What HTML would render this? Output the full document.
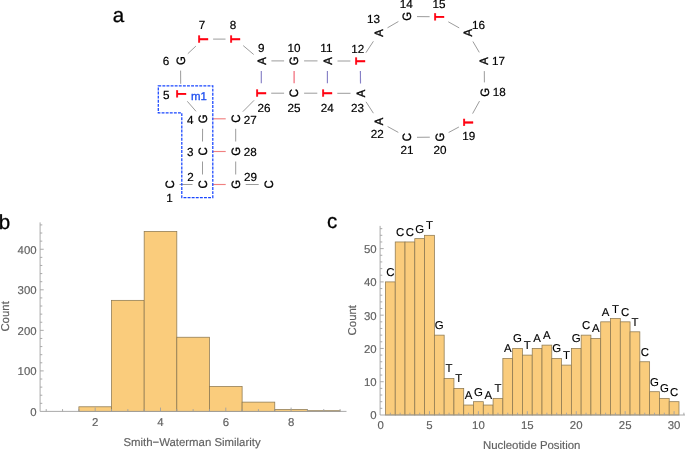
<!DOCTYPE html><html><head><meta charset="utf-8"><style>
html,body{margin:0;padding:0;background:#fff;}
svg{display:block;will-change:transform;text-rendering:geometricPrecision;font-family:"Liberation Sans",sans-serif;}
.n{font-size:11.7px;fill:#000;stroke:#000;stroke-width:0.2;}
.l{font-size:400px;fill:#000;text-anchor:middle;stroke:#000;stroke-width:11;}
.t{font-size:11.4px;fill:#606060;stroke:#606060;stroke-width:0.15;}
.b{fill:#facc7c;stroke:#8c7850;stroke-width:0.75;}
.ax{stroke:#a0a0a0;stroke-width:0.9;fill:none;}
.g{stroke:#b0b0b0;stroke-width:1;}
</style></head><body>
<svg width="685" height="449" viewBox="0 0 685 449">
<rect width="685" height="449" fill="#fff"/>
<g font-size="20.5" stroke="#000" stroke-width="0.3"><text x="112.8" y="21.8">a</text><text x="-1.3" y="228.9">b</text><text x="326.9" y="228.1">c</text></g>
<line x1="179.5" y1="184.5" x2="192.5" y2="184.5" stroke="#9c9c9c" stroke-width="1"/>
<line x1="202.5" y1="174.5" x2="202.5" y2="161.5" stroke="#9c9c9c" stroke-width="1"/>
<line x1="202.5" y1="141.5" x2="202.6" y2="128.8" stroke="#9c9c9c" stroke-width="1"/>
<line x1="196.0" y1="111.3" x2="187.3" y2="101.3" stroke="#9c9c9c" stroke-width="1"/>
<line x1="180.7" y1="83.8" x2="180.6" y2="70.6" stroke="#9c9c9c" stroke-width="1"/>
<line x1="187.8" y1="53.7" x2="195.9" y2="46.1" stroke="#9c9c9c" stroke-width="1"/>
<line x1="213.1" y1="39.1" x2="225.5" y2="39.1" stroke="#9c9c9c" stroke-width="1"/>
<line x1="243.2" y1="45.6" x2="253.7" y2="54.5" stroke="#9c9c9c" stroke-width="1"/>
<line x1="271.4" y1="60.9" x2="284.1" y2="60.9" stroke="#9c9c9c" stroke-width="1"/>
<line x1="304.1" y1="60.9" x2="317.5" y2="60.9" stroke="#9c9c9c" stroke-width="1"/>
<line x1="337.5" y1="61.0" x2="350.4" y2="61.0" stroke="#9c9c9c" stroke-width="1"/>
<line x1="365.9" y1="52.7" x2="373.4" y2="41.3" stroke="#9c9c9c" stroke-width="1"/>
<line x1="387.5" y1="27.8" x2="398.4" y2="21.5" stroke="#9c9c9c" stroke-width="1"/>
<line x1="417.0" y1="16.6" x2="429.6" y2="16.7" stroke="#9c9c9c" stroke-width="1"/>
<line x1="448.3" y1="21.8" x2="459.2" y2="27.9" stroke="#9c9c9c" stroke-width="1"/>
<line x1="472.9" y1="41.5" x2="479.3" y2="52.4" stroke="#9c9c9c" stroke-width="1"/>
<line x1="484.3" y1="71.1" x2="484.4" y2="82.4" stroke="#9c9c9c" stroke-width="1"/>
<line x1="479.5" y1="101.1" x2="472.6" y2="113.6" stroke="#9c9c9c" stroke-width="1"/>
<line x1="458.9" y1="127.0" x2="448.6" y2="132.5" stroke="#9c9c9c" stroke-width="1"/>
<line x1="429.8" y1="137.2" x2="417.0" y2="137.3" stroke="#9c9c9c" stroke-width="1"/>
<line x1="398.3" y1="132.4" x2="387.6" y2="126.5" stroke="#9c9c9c" stroke-width="1"/>
<line x1="373.4" y1="113.2" x2="366.0" y2="101.8" stroke="#9c9c9c" stroke-width="1"/>
<line x1="350.5" y1="93.3" x2="337.3" y2="93.3" stroke="#9c9c9c" stroke-width="1"/>
<line x1="317.3" y1="93.2" x2="304.1" y2="93.2" stroke="#9c9c9c" stroke-width="1"/>
<line x1="284.1" y1="93.2" x2="271.2" y2="93.2" stroke="#9c9c9c" stroke-width="1"/>
<line x1="254.1" y1="100.3" x2="242.8" y2="111.7" stroke="#9c9c9c" stroke-width="1"/>
<line x1="235.7" y1="128.8" x2="235.7" y2="141.5" stroke="#9c9c9c" stroke-width="1"/>
<line x1="235.7" y1="161.5" x2="235.7" y2="174.5" stroke="#9c9c9c" stroke-width="1"/>
<line x1="245.7" y1="184.5" x2="258.7" y2="184.5" stroke="#9c9c9c" stroke-width="1"/>
<line x1="212.5" y1="184.5" x2="225.7" y2="184.5" stroke="#f08080" stroke-width="1.15"/>
<line x1="212.5" y1="151.5" x2="225.7" y2="151.5" stroke="#f08080" stroke-width="1.15"/>
<line x1="212.6" y1="118.8" x2="225.7" y2="118.8" stroke="#f08080" stroke-width="1.15"/>
<line x1="294.1" y1="70.9" x2="294.1" y2="83.2" stroke="#f06070" stroke-width="1.15"/>
<line x1="261.3" y1="70.9" x2="261.3" y2="83.2" stroke="#8680c6" stroke-width="1.15"/>
<line x1="327.4" y1="70.9" x2="327.4" y2="83.2" stroke="#8680c6" stroke-width="1.15"/>
<line x1="360.4" y1="71.1" x2="360.5" y2="83.4" stroke="#8680c6" stroke-width="1.15"/>
<text class="l" transform="translate(169.50 184.50) rotate(-90) scale(0.02800 0.03025)" x="0" y="137.6">C</text>
<text class="l" transform="translate(202.50 184.50) rotate(-90) scale(0.02800 0.03025)" x="0" y="137.6">C</text>
<text class="l" transform="translate(202.50 151.50) rotate(-90) scale(0.02800 0.03025)" x="0" y="137.6">C</text>
<text class="l" transform="translate(202.60 118.80) rotate(-90) scale(0.02800 0.03025)" x="0" y="137.6">G</text>
<text class="l" style="font-weight:bold;fill:#ff0010;stroke:#ff0010" transform="translate(180.70 93.80) rotate(-90) scale(0.02950 0.03500)" x="0" y="137.6">T</text>
<text class="l" transform="translate(180.60 60.60) rotate(-90) scale(0.02800 0.03025)" x="0" y="137.6">G</text>
<text class="l" style="font-weight:bold;fill:#ff0010;stroke:#ff0010" transform="translate(203.10 39.15) rotate(-90) scale(0.02950 0.03500)" x="0" y="137.6">T</text>
<text class="l" style="font-weight:bold;fill:#ff0010;stroke:#ff0010" transform="translate(235.50 39.15) rotate(-90) scale(0.02950 0.03500)" x="0" y="137.6">T</text>
<text class="l" transform="translate(261.40 60.90) rotate(-90) scale(0.02800 0.03025)" x="0" y="137.6">A</text>
<text class="l" transform="translate(294.10 60.90) rotate(-90) scale(0.02800 0.03025)" x="0" y="137.6">G</text>
<text class="l" transform="translate(327.50 60.90) rotate(-90) scale(0.02800 0.03025)" x="0" y="137.6">A</text>
<text class="l" style="font-weight:bold;fill:#ff0010;stroke:#ff0010" transform="translate(360.40 61.10) rotate(-90) scale(0.02950 0.03500)" x="0" y="137.6">T</text>
<text class="l" transform="translate(378.90 32.90) rotate(-90) scale(0.02800 0.03025)" x="0" y="137.6">A</text>
<text class="l" transform="translate(407.00 16.40) rotate(-90) scale(0.02800 0.03025)" x="0" y="137.6">G</text>
<text class="l" style="font-weight:bold;fill:#ff0010;stroke:#ff0010" transform="translate(439.60 16.90) rotate(-90) scale(0.02950 0.03500)" x="0" y="137.6">T</text>
<text class="l" transform="translate(467.90 32.80) rotate(-90) scale(0.02800 0.03025)" x="0" y="137.6">A</text>
<text class="l" transform="translate(484.30 61.10) rotate(-90) scale(0.02800 0.03025)" x="0" y="137.6">A</text>
<text class="l" transform="translate(484.40 92.40) rotate(-90) scale(0.02800 0.03025)" x="0" y="137.6">G</text>
<text class="l" style="font-weight:bold;fill:#ff0010;stroke:#ff0010" transform="translate(467.70 122.30) rotate(-90) scale(0.02950 0.03500)" x="0" y="137.6">T</text>
<text class="l" transform="translate(439.80 137.20) rotate(-90) scale(0.02800 0.03025)" x="0" y="137.6">G</text>
<text class="l" transform="translate(407.00 137.30) rotate(-90) scale(0.02800 0.03025)" x="0" y="137.6">C</text>
<text class="l" transform="translate(378.90 121.60) rotate(-90) scale(0.02800 0.03025)" x="0" y="137.6">A</text>
<text class="l" transform="translate(360.50 93.40) rotate(-90) scale(0.02800 0.03025)" x="0" y="137.6">A</text>
<text class="l" style="font-weight:bold;fill:#ff0010;stroke:#ff0010" transform="translate(327.30 93.20) rotate(-90) scale(0.02950 0.03500)" x="0" y="137.6">T</text>
<text class="l" transform="translate(294.10 93.20) rotate(-90) scale(0.02800 0.03025)" x="0" y="137.6">C</text>
<text class="l" style="font-weight:bold;fill:#ff0010;stroke:#ff0010" transform="translate(261.20 93.20) rotate(-90) scale(0.02950 0.03500)" x="0" y="137.6">T</text>
<text class="l" transform="translate(235.70 118.80) rotate(-90) scale(0.02800 0.03025)" x="0" y="137.6">C</text>
<text class="l" transform="translate(235.70 151.50) rotate(-90) scale(0.02800 0.03025)" x="0" y="137.6">G</text>
<text class="l" transform="translate(235.70 184.50) rotate(-90) scale(0.02800 0.03025)" x="0" y="137.6">G</text>
<text class="l" transform="translate(268.70 184.50) rotate(-90) scale(0.02800 0.03025)" x="0" y="137.6">C</text>
<text class="n" text-anchor="middle" x="169.6" y="201.8">1</text>
<text class="n" text-anchor="middle" x="190.5" y="181.1">2</text>
<text class="n" text-anchor="middle" x="190.3" y="155.6">3</text>
<text class="n" text-anchor="middle" x="190.3" y="123.5">4</text>
<text class="n" text-anchor="middle" x="166.2" y="98.8">5</text>
<text class="n" text-anchor="middle" x="166.1" y="65.1">6</text>
<text class="n" text-anchor="middle" x="202.0" y="28.9">7</text>
<text class="n" text-anchor="middle" x="232.9" y="28.9">8</text>
<text class="n" text-anchor="middle" x="261.2" y="52.4">9</text>
<text class="n" text-anchor="middle" x="293.9" y="52.4">10</text>
<text class="n" text-anchor="middle" x="326.4" y="52.4">11</text>
<text class="n" text-anchor="middle" x="357.7" y="52.5">12</text>
<text class="n" text-anchor="middle" x="373.4" y="23.4">13</text>
<text class="n" text-anchor="middle" x="406.3" y="8.2">14</text>
<text class="n" text-anchor="middle" x="439.0" y="8.2">15</text>
<text class="n" text-anchor="middle" x="478.5" y="29.2">16</text>
<text class="n" text-anchor="middle" x="498.5" y="65.1">17</text>
<text class="n" text-anchor="middle" x="499.2" y="96.4">18</text>
<text class="n" text-anchor="middle" x="468.7" y="140.4">19</text>
<text class="n" text-anchor="middle" x="440.0" y="154.2">20</text>
<text class="n" text-anchor="middle" x="407.0" y="154.2">21</text>
<text class="n" text-anchor="middle" x="377.2" y="138.3">22</text>
<text class="n" text-anchor="middle" x="357.4" y="111.8">23</text>
<text class="n" text-anchor="middle" x="327.3" y="112.1">24</text>
<text class="n" text-anchor="middle" x="294.1" y="112.1">25</text>
<text class="n" text-anchor="middle" x="263.9" y="112.1">26</text>
<text class="n" text-anchor="middle" x="250.2" y="123.5">27</text>
<text class="n" text-anchor="middle" x="250.2" y="155.6">28</text>
<text class="n" text-anchor="middle" x="250.4" y="181.1">29</text>
<text x="199" y="99.7" font-size="11.4" fill="#1a4cf0" stroke="#1a4cf0" stroke-width="0.3" text-anchor="middle">m1</text>
<path d="M158.3 85.8H212.8V197.6H181.8V112.9H158.3Z" fill="none" stroke="#1846ff" stroke-width="1.25" stroke-dasharray="2.9 1.2"/>
<rect class="b" x="78.88" y="406.79" width="32.65" height="4.66"/>
<rect class="b" x="111.53" y="300.34" width="32.65" height="111.11"/>
<rect class="b" x="144.17" y="231.41" width="32.65" height="180.04"/>
<rect class="b" x="176.82" y="337.24" width="32.65" height="74.21"/>
<rect class="b" x="209.47" y="386.51" width="32.65" height="24.94"/>
<rect class="b" x="242.12" y="402.12" width="32.65" height="9.33"/>
<rect class="b" x="274.77" y="409.58" width="32.65" height="1.87"/>
<rect class="b" x="307.42" y="410.72" width="32.65" height="0.73"/>
<path class="ax" d="M40.1 222.4V411.4H346.5"/>
<path class="ax" d="M40.1 403.34h2.2M40.1 395.23h2.2M40.1 387.12h2.2M40.1 379.01h2.2M40.1 370.90h3.6M40.1 362.79h2.2M40.1 354.68h2.2M40.1 346.57h2.2M40.1 338.46h2.2M40.1 330.35h3.6M40.1 322.24h2.2M40.1 314.13h2.2M40.1 306.02h2.2M40.1 297.91h2.2M40.1 289.80h3.6M40.1 281.69h2.2M40.1 273.58h2.2M40.1 265.47h2.2M40.1 257.36h2.2M40.1 249.25h3.6M40.1 241.14h2.2M40.1 233.03h2.2M40.1 224.92h2.2M46.22 411.4v-2.3M62.55 411.4v-2.3M78.88 411.4v-2.3M95.20 411.4v-3.8M111.53 411.4v-2.3M127.85 411.4v-2.3M144.17 411.4v-2.3M160.50 411.4v-3.8M176.82 411.4v-2.3M193.15 411.4v-2.3M209.47 411.4v-2.3M225.80 411.4v-3.8M242.12 411.4v-2.3M258.45 411.4v-2.3M274.77 411.4v-2.3M291.10 411.4v-3.8M307.42 411.4v-2.3M323.75 411.4v-2.3M340.07 411.4v-2.3"/>
<text class="t" text-anchor="end" x="36.6" y="415.8">0</text>
<text class="t" text-anchor="end" x="36.6" y="375.3">100</text>
<text class="t" text-anchor="end" x="36.6" y="334.7">200</text>
<text class="t" text-anchor="end" x="36.6" y="294.2">300</text>
<text class="t" text-anchor="end" x="36.6" y="253.6">400</text>
<text class="t" text-anchor="middle" x="95.2" y="426.1">2</text>
<text class="t" text-anchor="middle" x="160.5" y="426.1">4</text>
<text class="t" text-anchor="middle" x="225.8" y="426.1">6</text>
<text class="t" text-anchor="middle" x="291.1" y="426.1">8</text>
<text class="t" text-anchor="middle" x="192" y="446.3">Smith−Waterman Similarity</text>
<text class="t" text-anchor="middle" transform="translate(8.9 316.4) rotate(-90)">Count</text>
<rect class="b" x="385.44" y="281.90" width="9.79" height="133.10"/>
<rect class="b" x="395.23" y="241.96" width="9.78" height="173.04"/>
<rect class="b" x="405.01" y="241.96" width="9.79" height="173.04"/>
<rect class="b" x="414.80" y="238.64" width="9.78" height="176.36"/>
<rect class="b" x="424.58" y="235.31" width="9.79" height="179.69"/>
<rect class="b" x="434.37" y="335.14" width="9.79" height="79.86"/>
<rect class="b" x="444.15" y="378.40" width="9.78" height="36.60"/>
<rect class="b" x="453.94" y="388.38" width="9.79" height="26.62"/>
<rect class="b" x="463.72" y="405.02" width="9.78" height="9.98"/>
<rect class="b" x="473.51" y="401.69" width="9.79" height="13.31"/>
<rect class="b" x="483.29" y="405.02" width="9.78" height="9.98"/>
<rect class="b" x="493.08" y="398.36" width="9.79" height="16.64"/>
<rect class="b" x="502.86" y="358.43" width="9.79" height="56.57"/>
<rect class="b" x="512.65" y="348.45" width="9.78" height="66.55"/>
<rect class="b" x="522.43" y="355.10" width="9.78" height="59.90"/>
<rect class="b" x="532.22" y="348.45" width="9.79" height="66.55"/>
<rect class="b" x="542.00" y="345.12" width="9.78" height="69.88"/>
<rect class="b" x="551.79" y="358.43" width="9.78" height="56.57"/>
<rect class="b" x="561.57" y="365.09" width="9.79" height="49.91"/>
<rect class="b" x="571.36" y="348.45" width="9.78" height="66.55"/>
<rect class="b" x="581.14" y="335.14" width="9.78" height="79.86"/>
<rect class="b" x="590.93" y="338.47" width="9.78" height="76.53"/>
<rect class="b" x="600.71" y="321.83" width="9.78" height="93.17"/>
<rect class="b" x="610.50" y="318.50" width="9.79" height="96.50"/>
<rect class="b" x="620.28" y="321.83" width="9.78" height="93.17"/>
<rect class="b" x="630.07" y="331.81" width="9.78" height="83.19"/>
<rect class="b" x="639.85" y="361.76" width="9.79" height="53.24"/>
<rect class="b" x="649.64" y="391.71" width="9.78" height="23.29"/>
<rect class="b" x="659.42" y="398.36" width="9.78" height="16.64"/>
<rect class="b" x="669.21" y="401.69" width="9.79" height="13.31"/>
<path class="ax" d="M380.1 225.9V415.0H685"/>
<path class="ax" d="M380.1 408.34h2.2M380.1 401.69h2.2M380.1 395.03h2.2M380.1 388.38h2.2M380.1 381.72h3.6M380.1 375.07h2.2M380.1 368.41h2.2M380.1 361.76h2.2M380.1 355.10h2.2M380.1 348.45h3.6M380.1 341.79h2.2M380.1 335.14h2.2M380.1 328.48h2.2M380.1 321.83h2.2M380.1 315.17h3.6M380.1 308.52h2.2M380.1 301.86h2.2M380.1 295.21h2.2M380.1 288.55h2.2M380.1 281.90h3.6M380.1 275.24h2.2M380.1 268.59h2.2M380.1 261.93h2.2M380.1 255.28h2.2M380.1 248.62h3.6M380.1 241.96h2.2M380.1 235.31h2.2M380.1 228.65h2.2M390.34 415.0v-2.3M400.12 415.0v-2.3M409.91 415.0v-2.3M419.69 415.0v-2.3M429.48 415.0v-3.8M439.26 415.0v-2.3M449.05 415.0v-2.3M458.83 415.0v-2.3M468.62 415.0v-2.3M478.40 415.0v-3.8M488.19 415.0v-2.3M497.97 415.0v-2.3M507.75 415.0v-2.3M517.54 415.0v-2.3M527.33 415.0v-3.8M537.11 415.0v-2.3M546.89 415.0v-2.3M556.68 415.0v-2.3M566.47 415.0v-2.3M576.25 415.0v-3.8M586.04 415.0v-2.3M595.82 415.0v-2.3M605.61 415.0v-2.3M615.39 415.0v-2.3M625.17 415.0v-3.8M634.96 415.0v-2.3M644.75 415.0v-2.3M654.53 415.0v-2.3M664.32 415.0v-2.3M674.10 415.0v-3.8M683.88 415.0v-2.3"/>
<text class="t" text-anchor="end" x="376.6" y="419.4">0</text>
<text class="t" text-anchor="end" x="376.6" y="386.1">10</text>
<text class="t" text-anchor="end" x="376.6" y="352.8">20</text>
<text class="t" text-anchor="end" x="376.6" y="319.6">30</text>
<text class="t" text-anchor="end" x="376.6" y="286.3">40</text>
<text class="t" text-anchor="end" x="376.6" y="253.0">50</text>
<text class="t" text-anchor="middle" x="380.6" y="429.2">0</text>
<text class="t" text-anchor="middle" x="429.5" y="429.2">5</text>
<text class="t" text-anchor="middle" x="478.4" y="429.2">10</text>
<text class="t" text-anchor="middle" x="527.3" y="429.2">15</text>
<text class="t" text-anchor="middle" x="576.2" y="429.2">20</text>
<text class="t" text-anchor="middle" x="625.2" y="429.2">25</text>
<text class="t" text-anchor="middle" x="674.1" y="429.2">30</text>
<text class="t" text-anchor="middle" x="531.7" y="448.6">Nucleotide Position</text>
<text class="t" text-anchor="middle" transform="translate(355.9 320.2) rotate(-90)">Count</text>
<text text-anchor="middle" font-size="11.4" stroke="#000" stroke-width="0.12" x="390.34" y="275.90">C</text>
<text text-anchor="middle" font-size="11.4" stroke="#000" stroke-width="0.12" x="400.12" y="235.96">C</text>
<text text-anchor="middle" font-size="11.4" stroke="#000" stroke-width="0.12" x="409.91" y="235.96">C</text>
<text text-anchor="middle" font-size="11.4" stroke="#000" stroke-width="0.12" x="419.69" y="232.64">G</text>
<text text-anchor="middle" font-size="11.4" stroke="#000" stroke-width="0.12" x="429.48" y="229.31">T</text>
<text text-anchor="middle" font-size="11.4" stroke="#000" stroke-width="0.12" x="439.26" y="329.14">G</text>
<text text-anchor="middle" font-size="11.4" stroke="#000" stroke-width="0.12" x="449.05" y="372.40">T</text>
<text text-anchor="middle" font-size="11.4" stroke="#000" stroke-width="0.12" x="458.83" y="382.38">T</text>
<text text-anchor="middle" font-size="11.4" stroke="#000" stroke-width="0.12" x="468.62" y="399.02">A</text>
<text text-anchor="middle" font-size="11.4" stroke="#000" stroke-width="0.12" x="478.40" y="395.69">G</text>
<text text-anchor="middle" font-size="11.4" stroke="#000" stroke-width="0.12" x="488.19" y="399.02">A</text>
<text text-anchor="middle" font-size="11.4" stroke="#000" stroke-width="0.12" x="497.97" y="392.36">T</text>
<text text-anchor="middle" font-size="11.4" stroke="#000" stroke-width="0.12" x="507.75" y="352.43">A</text>
<text text-anchor="middle" font-size="11.4" stroke="#000" stroke-width="0.12" x="517.54" y="342.45">G</text>
<text text-anchor="middle" font-size="11.4" stroke="#000" stroke-width="0.12" x="527.33" y="349.10">T</text>
<text text-anchor="middle" font-size="11.4" stroke="#000" stroke-width="0.12" x="537.11" y="342.45">A</text>
<text text-anchor="middle" font-size="11.4" stroke="#000" stroke-width="0.12" x="546.89" y="339.12">A</text>
<text text-anchor="middle" font-size="11.4" stroke="#000" stroke-width="0.12" x="556.68" y="352.43">G</text>
<text text-anchor="middle" font-size="11.4" stroke="#000" stroke-width="0.12" x="566.47" y="359.09">T</text>
<text text-anchor="middle" font-size="11.4" stroke="#000" stroke-width="0.12" x="576.25" y="342.45">G</text>
<text text-anchor="middle" font-size="11.4" stroke="#000" stroke-width="0.12" x="586.04" y="329.14">C</text>
<text text-anchor="middle" font-size="11.4" stroke="#000" stroke-width="0.12" x="595.82" y="332.47">A</text>
<text text-anchor="middle" font-size="11.4" stroke="#000" stroke-width="0.12" x="605.61" y="315.83">A</text>
<text text-anchor="middle" font-size="11.4" stroke="#000" stroke-width="0.12" x="615.39" y="312.50">T</text>
<text text-anchor="middle" font-size="11.4" stroke="#000" stroke-width="0.12" x="625.17" y="315.83">C</text>
<text text-anchor="middle" font-size="11.4" stroke="#000" stroke-width="0.12" x="634.96" y="325.81">T</text>
<text text-anchor="middle" font-size="11.4" stroke="#000" stroke-width="0.12" x="644.75" y="355.76">C</text>
<text text-anchor="middle" font-size="11.4" stroke="#000" stroke-width="0.12" x="654.53" y="385.71">G</text>
<text text-anchor="middle" font-size="11.4" stroke="#000" stroke-width="0.12" x="664.32" y="392.36">G</text>
<text text-anchor="middle" font-size="11.4" stroke="#000" stroke-width="0.12" x="674.10" y="395.69">C</text>
</svg></body></html>
